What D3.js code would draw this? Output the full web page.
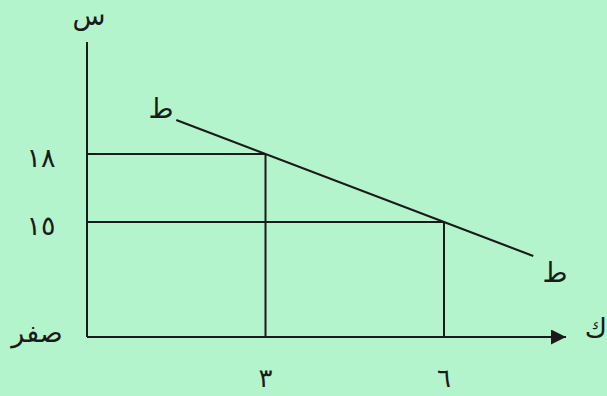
<!DOCTYPE html>
<html lang="ar">
<head>
<meta charset="UTF-8">
<title>منحنى الطلب</title>
<script src="https://cdnjs.cloudflare.com/ajax/libs/d3/7.8.5/d3.min.js"></script>
<style>
    body { margin: 0; background: #b4f4cc; }
    svg { display: block; }
    text { font-family: "DejaVu Sans", sans-serif; fill: #1a1a1a; }
</style>
</head>
<body>
<svg width="607" height="396"></svg>
<script>
// quantities and prices of the two marked points
const quantities = [3, 6];
const prices = [18, 15];
const qLabels = ["٣", "٦"];
const pLabels = ["١٨", "١٥"];
// demand line (ط ط) end points
const demandQ = [1.5, 7.5];
const demandP = [19.5, 13.5];

const svg = d3.select("svg");
const x = d3.scaleLinear().domain([0, 8]).range([87, 563]);
const y = d3.scaleLinear().domain([9.93, 22.94]).range([337, 42]);
const ink = "#1a1a1a";

svg.append("defs").append("marker")
    .attr("id", "arrow").attr("viewBox", "0 0 10 10")
    .attr("refX", 10).attr("refY", 5)
    .attr("markerWidth", 18).attr("markerHeight", 15)
    .attr("markerUnits", "userSpaceOnUse").attr("orient", "auto")
    .append("path").attr("d", "M0,0L10,5L0,10z").attr("fill", ink);

// axes
svg.append("line").attr("x1", x(0)).attr("x2", x(0))
    .attr("y1", y.range()[1]).attr("y2", y.range()[0])
    .attr("stroke", ink).attr("stroke-width", 2);
svg.append("line").attr("x1", x(0)).attr("x2", x(8) + 3)
    .attr("y1", y.range()[0]).attr("y2", y.range()[0])
    .attr("stroke", ink).attr("stroke-width", 2)
    .attr("marker-end", "url(#arrow)");

// guide lines to the axes
quantities.forEach((q, i) => {
    svg.append("line").attr("x1", x(0)).attr("x2", x(q))
        .attr("y1", y(prices[i])).attr("y2", y(prices[i]))
        .attr("stroke", ink).attr("stroke-width", 2);
    svg.append("line").attr("x1", x(q)).attr("x2", x(q))
        .attr("y1", y(prices[i])).attr("y2", y.range()[0])
        .attr("stroke", ink).attr("stroke-width", 2);
});

// demand line
svg.append("path")
    .datum(demandQ.map((q, i) => [q, demandP[i]]))
    .attr("d", d3.line().x(d => x(d[0])).y(d => y(d[1])))
    .attr("fill", "none").attr("stroke", ink).attr("stroke-width", 2);

// tick labels
svg.selectAll(".pl").data(prices).enter().append("text")
    .attr("x", 41).attr("y", d => y(d) + 13)
    .attr("text-anchor", "middle").attr("font-size", 27)
    .text((d, i) => pLabels[i]);
svg.selectAll(".ql").data(quantities).enter().append("text")
    .attr("x", d => x(d)).attr("y", 387)
    .attr("text-anchor", "middle").attr("font-size", 26)
    .text((d, i) => qLabels[i]);

// other labels
const lbl = (t, px, py) => svg.append("text").attr("x", px).attr("y", py)
    .attr("text-anchor", "middle").attr("font-size", 27).text(t);
lbl("س", 89, 25);
lbl("ط", 161, 118);
lbl("ط", 555, 282);
lbl("ك", 596, 338);
lbl("صفر", 37, 342);
</script>
</body>
</html>
